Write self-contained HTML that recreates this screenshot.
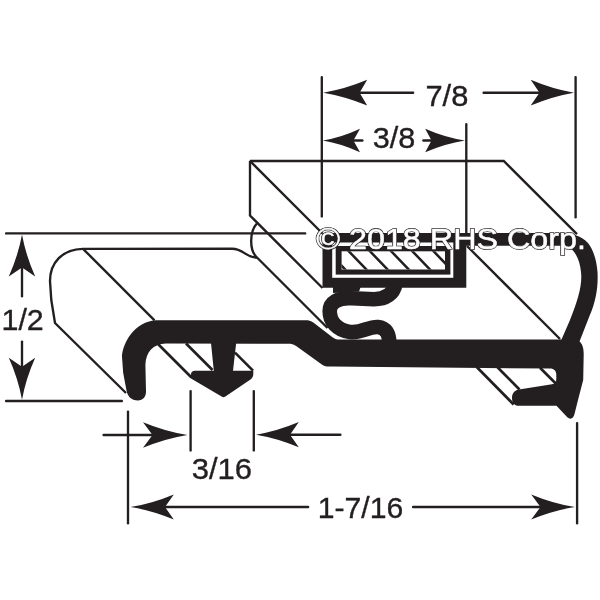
<!DOCTYPE html>
<html><head><meta charset="utf-8"><title>Gasket profile</title>
<style>
html,body{margin:0;padding:0;background:#fff;}
svg{display:block;will-change:transform}
text{font-family:"Liberation Sans",sans-serif;fill:#231f20;stroke:#231f20;stroke-width:0.35px;}
</style></head><body>
<svg width="600" height="600" viewBox="0 0 600 600">
<rect width="600" height="600" fill="#fff"/>
<line x1="6.10" y1="233.40" x2="305.20" y2="233.40" stroke="#231f20" stroke-width="2.35" stroke-linecap="round"/>
<line x1="6.10" y1="401.00" x2="121.90" y2="401.00" stroke="#231f20" stroke-width="2.35" stroke-linecap="round"/>
<path d="M22.00,234.50 Q18.20,255.50 8.80,276.50 L22.00,267.50 L35.20,276.50 Q25.80,255.50 22.00,234.50Z" fill="#231f20"/>
<line x1="22.00" y1="266.60" x2="22.00" y2="296.20" stroke="#231f20" stroke-width="2.35" stroke-linecap="round"/>
<path d="M22.00,399.80 Q25.80,378.80 35.20,357.80 L22.00,366.80 L8.80,357.80 Q18.20,378.80 22.00,399.80Z" fill="#231f20"/>
<line x1="22.00" y1="341.60" x2="22.00" y2="367.40" stroke="#231f20" stroke-width="2.35" stroke-linecap="round"/>
<line x1="321.80" y1="77.10" x2="321.80" y2="216.40" stroke="#231f20" stroke-width="2.35" stroke-linecap="round"/>
<line x1="575.60" y1="77.10" x2="575.60" y2="217.20" stroke="#231f20" stroke-width="2.35" stroke-linecap="round"/>
<line x1="466.30" y1="124.10" x2="466.30" y2="233.40" stroke="#231f20" stroke-width="2.35" stroke-linecap="round"/>
<path d="M323.20,92.70 Q345.20,96.35 367.20,105.60 L359.60,92.70 L367.20,79.80 Q345.20,89.05 323.20,92.70Z" fill="#231f20"/>
<line x1="358.60" y1="92.70" x2="413.15" y2="92.70" stroke="#231f20" stroke-width="2.35" stroke-linecap="round"/>
<path d="M574.00,92.70 Q552.35,89.05 530.70,79.80 L539.50,92.70 L530.70,105.60 Q552.35,96.35 574.00,92.70Z" fill="#231f20"/>
<line x1="483.60" y1="92.70" x2="540.40" y2="92.70" stroke="#231f20" stroke-width="2.35" stroke-linecap="round"/>
<path d="M322.80,140.50 Q341.40,143.60 360.00,152.30 L353.40,140.50 L360.00,128.70 Q341.40,137.40 322.80,140.50Z" fill="#231f20"/>
<line x1="352.60" y1="140.50" x2="362.40" y2="140.50" stroke="#231f20" stroke-width="2.35" stroke-linecap="round"/>
<path d="M465.00,140.50 Q445.10,137.40 425.20,128.70 L431.50,140.50 L425.20,152.30 Q445.10,143.60 465.00,140.50Z" fill="#231f20"/>
<line x1="423.40" y1="140.50" x2="432.40" y2="140.50" stroke="#231f20" stroke-width="2.35" stroke-linecap="round"/>
<line x1="128.00" y1="411.60" x2="128.00" y2="523.20" stroke="#231f20" stroke-width="2.35" stroke-linecap="round"/>
<line x1="103.60" y1="435.00" x2="153.40" y2="435.00" stroke="#231f20" stroke-width="2.35" stroke-linecap="round"/>
<path d="M187.50,435.00 Q165.25,431.40 143.00,422.20 L152.50,435.00 L143.00,447.80 Q165.25,438.60 187.50,435.00Z" fill="#231f20"/>
<line x1="190.60" y1="391.10" x2="190.60" y2="450.40" stroke="#231f20" stroke-width="2.35" stroke-linecap="round"/>
<line x1="253.80" y1="391.10" x2="253.80" y2="450.40" stroke="#231f20" stroke-width="2.35" stroke-linecap="round"/>
<path d="M256.00,434.70 Q277.40,438.20 298.80,447.30 L290.00,434.70 L298.80,422.10 Q277.40,431.20 256.00,434.70Z" fill="#231f20"/>
<line x1="289.60" y1="434.70" x2="340.40" y2="434.70" stroke="#231f20" stroke-width="2.35" stroke-linecap="round"/>
<path d="M130.50,507.00 Q152.15,510.50 173.80,519.60 L165.00,507.00 L173.80,494.40 Q152.15,503.50 130.50,507.00Z" fill="#231f20"/>
<line x1="164.60" y1="507.00" x2="308.15" y2="507.00" stroke="#231f20" stroke-width="2.35" stroke-linecap="round"/>
<line x1="413.10" y1="507.00" x2="541.40" y2="507.00" stroke="#231f20" stroke-width="2.35" stroke-linecap="round"/>
<path d="M575.00,507.00 Q553.10,503.50 531.20,494.40 L540.50,507.00 L531.20,519.60 Q553.10,510.50 575.00,507.00Z" fill="#231f20"/>
<line x1="577.10" y1="423.10" x2="577.10" y2="523.20" stroke="#231f20" stroke-width="2.35" stroke-linecap="round"/>
<path d="M322.5,233.5 L250,161 L503.75,161 L577,234.2" fill="none" stroke="#231f20" stroke-width="2.35" stroke-linejoin="miter" stroke-miterlimit="2"/>
<path d="M250,161 L250,215.5 L322.5,288" fill="none" stroke="#231f20" stroke-width="2.35" stroke-linejoin="miter" stroke-miterlimit="2"/>
<path d="M257,223.5 C249.7,231 248.8,250 257,257.5 L327.5,328" fill="none" stroke="#231f20" stroke-width="2.35" stroke-linejoin="miter" stroke-miterlimit="2"/>
<path d="M257,257.5 C246,258 244,248.8 232,248.8 L82.5,248.8 C62,249.5 50,263 50,281 L51.3,300 L55,323 L126,393" fill="none" stroke="#231f20" stroke-width="2.35" stroke-linejoin="miter" stroke-miterlimit="2"/>
<path d="M83.5,249.3 L154.5,320.3" fill="none" stroke="#231f20" stroke-width="2.35" stroke-linejoin="miter" stroke-miterlimit="2"/>
<path d="M467,246 L560,339" fill="none" stroke="#231f20" stroke-width="2.35" stroke-linejoin="miter" stroke-miterlimit="2"/>
<path d="M157.5,343.5 L191.5,377.5" fill="none" stroke="#231f20" stroke-width="2.7" stroke-linejoin="miter" stroke-miterlimit="2"/>
<path d="M186,343.5 L212.5,370" fill="none" stroke="#231f20" stroke-width="2.7" stroke-linejoin="miter" stroke-miterlimit="2"/>
<path d="M235,352.6 L253,370.6" fill="none" stroke="#231f20" stroke-width="2.7" stroke-linejoin="miter" stroke-miterlimit="2"/>
<path d="M476.7,367 L513.7,404.5" fill="none" stroke="#231f20" stroke-width="2.7" stroke-linejoin="miter" stroke-miterlimit="2"/>
<path d="M497.5,367.3 L519.5,389.5" fill="none" stroke="#231f20" stroke-width="2.7" stroke-linejoin="miter" stroke-miterlimit="2"/>
<path d="M540,367.8 L556,383.8" fill="none" stroke="#231f20" stroke-width="2.7" stroke-linejoin="miter" stroke-miterlimit="2"/>
<path d="M156,320.3 L305,320.3 C309,320.3 310.8,320.9 313.3,322.6 L331.5,336.4 C334.5,338.6 336.5,339.5 340,339.5 L561.5,339.5 L579.5,341.5 C582,343.5 583.7,347.5 583.7,354 L583.2,380 L578,400 L574.5,414 C573.3,419 570.3,419.8 567.3,417.2 L556.5,405.8 L519,405.8 C514,405.8 512,402 512,398 C512,393.5 514.5,390 519,389.5 L552,384.3 C555,384 556.3,382 556.3,379 L556.3,375 C556.3,371 554,368.6 550,368.6 L331,366.6 C326.5,366.6 324.5,366.3 321.5,364.2 L296.5,346.2 C293.5,344.2 291.5,343.7 288,343.7 L166,343.6 C153,344 145.8,352 145.4,365 L146,391 C146.2,397 143,400.4 138,400.4 C131,400.4 127.7,396.5 126.5,390.5 L123.2,373 L122,357 C122.3,344 134,321.5 156,320.3 Z" fill="#231f20"/>
<path d="M210.8,341 L213.8,370.8 L195,370.8 C192.5,370.8 191,372.2 191,374.4 L191,378.5 L222,396.8 C223,397.4 224,397.4 225,396.8 L250.5,379.5 C252.5,378 253.3,376 253.3,374 L253.3,370.8 L233,370.8 L236.4,341 Z" fill="#231f20"/>
<path d="M322.5,233 L562,233 C572,233 581.5,236 588,243 C593,249.5 596.5,259 597.5,272 C598.3,287 596,301 589.5,316 L579.5,341.5 L577,348 L558,346 L561.5,339.5 L570,320 C578,300 582.5,285 581,272 C580,262 577,254 571,248.5 C568,246.2 564,245.8 560,245.8 L466.3,245.8 L466.3,287.7 L322.5,287.7 Z" fill="#231f20"/>
<rect x="332.2" y="242.5" width="121.1" height="35.3" fill="#fff"/>
<rect x="335.7" y="246" width="114.7" height="28.6" fill="#231f20"/>
<rect x="341.6" y="251.3" width="103.4" height="18.2" fill="#fff"/>
<clipPath id="hc"><rect x="341.6" y="251.3" width="103.4" height="18.2"/></clipPath>
<path clip-path="url(#hc)" d="M326.2,249.8 L347.4,271.8 M347.4,249.8 L368.6,271.8 M368.6,249.8 L389.8,271.8 M389.8,249.8 L411.0,271.8 M411.0,249.8 L432.2,271.8 M432.2,249.8 L453.4,271.8" stroke="#231f20" stroke-width="2.5" fill="none"/>
<path d="M395.5,284 C393.5,294 386,299.2 374,299.2 L352,298.3 C338,297.3 329.8,302.5 329.7,311 C329.6,321.5 337,330.3 350,332 C362,333.5 368,326.3 378,327 C386,327.6 389.3,334 389.3,343" fill="none" stroke="#231f20" stroke-width="14.6" stroke-linecap="butt" stroke-linejoin="round"/>
<path d="M333,286 L361,286 L359,291.5 L333,293 Z" fill="#231f20"/>
<text x="425.4" y="105.6" font-size="30" textLength="43.0" lengthAdjust="spacingAndGlyphs" >7/8</text>
<text x="372.8" y="147.8" font-size="30" textLength="42.6" lengthAdjust="spacingAndGlyphs" >3/8</text>
<text x="1.5" y="329.5" font-size="30" textLength="42.3" lengthAdjust="spacingAndGlyphs" >1/2</text>
<text x="191.65" y="479" font-size="30" textLength="60.4" lengthAdjust="spacingAndGlyphs" >3/16</text>
<text x="317.7" y="518.2" font-size="30" textLength="85.6" lengthAdjust="spacingAndGlyphs" >1-7/16</text>
<text x="316.2" y="249.2" font-size="30" textLength="269.8" lengthAdjust="spacingAndGlyphs" style="fill:#231f20;stroke:#231f20;stroke-width:1.9px;stroke-linejoin:round">© 2018 RHS Corp.</text><text x="316.2" y="249.2" font-size="30" textLength="269.8" lengthAdjust="spacingAndGlyphs" style="fill:#fff;stroke:#fff;stroke-width:0.5px;stroke-linejoin:round">© 2018 RHS Corp.</text>
</svg>
</body></html>
